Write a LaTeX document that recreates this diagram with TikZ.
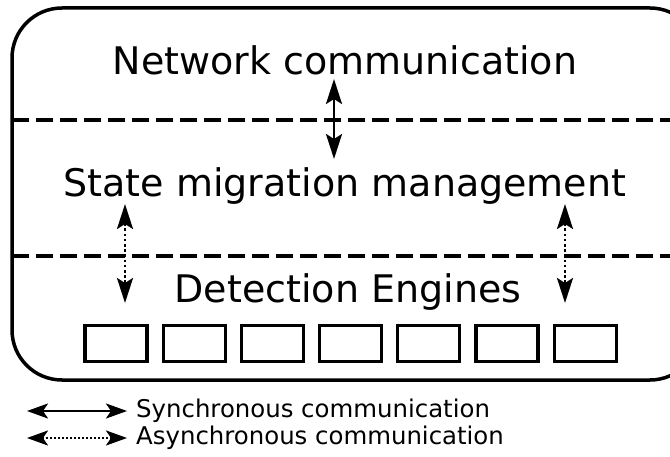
\documentclass[tikz,border=0pt]{standalone}
\usepackage{fontspec}
\setmainfont{DejaVu Sans}
\usetikzlibrary{arrows.meta}
\begin{document}
\begin{tikzpicture}[x=1pt,y=-1pt,
  frame/.style={line width=3.5pt, rounded corners=50pt},
  divider/.style={line width=3.2pt, dash pattern=on 17pt off 7pt},
  sync/.style={line width=2.6pt, {Stealth[length=25pt,width=16pt,inset=5pt]}-{Stealth[length=25pt,width=16pt,inset=5pt]}},
  async/.style={sync, dash pattern=on 2.6pt off 2.6pt},
  legsync/.style={line width=2.4pt, {Stealth[length=21pt,width=15pt,inset=5pt]}-{Stealth[length=21pt,width=15pt,inset=5pt]}},
  legasync/.style={legsync, dash pattern=on 2pt off 2pt},
  layer/.style={font=\fontsize{38}{44}\selectfont, inner sep=0pt},
  legend/.style={font=\fontsize{24.4}{28}\selectfont, inner sep=0pt, anchor=west},
  engine/.style={draw, line width=3.2pt, minimum width=62pt, minimum height=36pt, inner sep=0pt}]
\useasboundingbox (0,0) rectangle (670,457);

% outer frame, right side runs past the page edge
\draw[frame] (12,380) rectangle (700,8);

% layer dividers
\draw[divider] (12,120) -- (670,120);
\draw[divider] (12,256) -- (670,256);

% layer titles
\node[layer] (net) at (345,60) {Network communication};
\node[layer] (state) at (345,186) {State migration management};
\node[layer] (det) at (348,292) {Detection Engines};

% detection engine boxes
\foreach \i in {0,...,6} {
  \node[engine] (e\i) at (116+78.2*\i,343.5) {};
}

% links between layers
\coordinate (n1) at (334,79);
\coordinate (n2) at (334,159);
\draw[sync] (n1) -- (n2);
\coordinate (a1) at (125,204);
\coordinate (a2) at (125,303);
\draw[async] (a1) -- (a2);
\coordinate (b1) at (565,204);
\coordinate (b2) at (565,303);
\draw[async] (b1) -- (b2);

% legend
\coordinate (ls1) at (27,411);
\coordinate (ls2) at (127,411);
\draw[legsync] (ls1) -- (ls2);
\node[legend] (lsync) at (136,411) {Synchronous communication};
\coordinate (la1) at (27,438);
\coordinate (la2) at (127,438);
\draw[legasync] (la1) -- (la2);
\node[legend] (lasync) at (136,438) {Asynchronous communication};
\end{tikzpicture}
\end{document}
